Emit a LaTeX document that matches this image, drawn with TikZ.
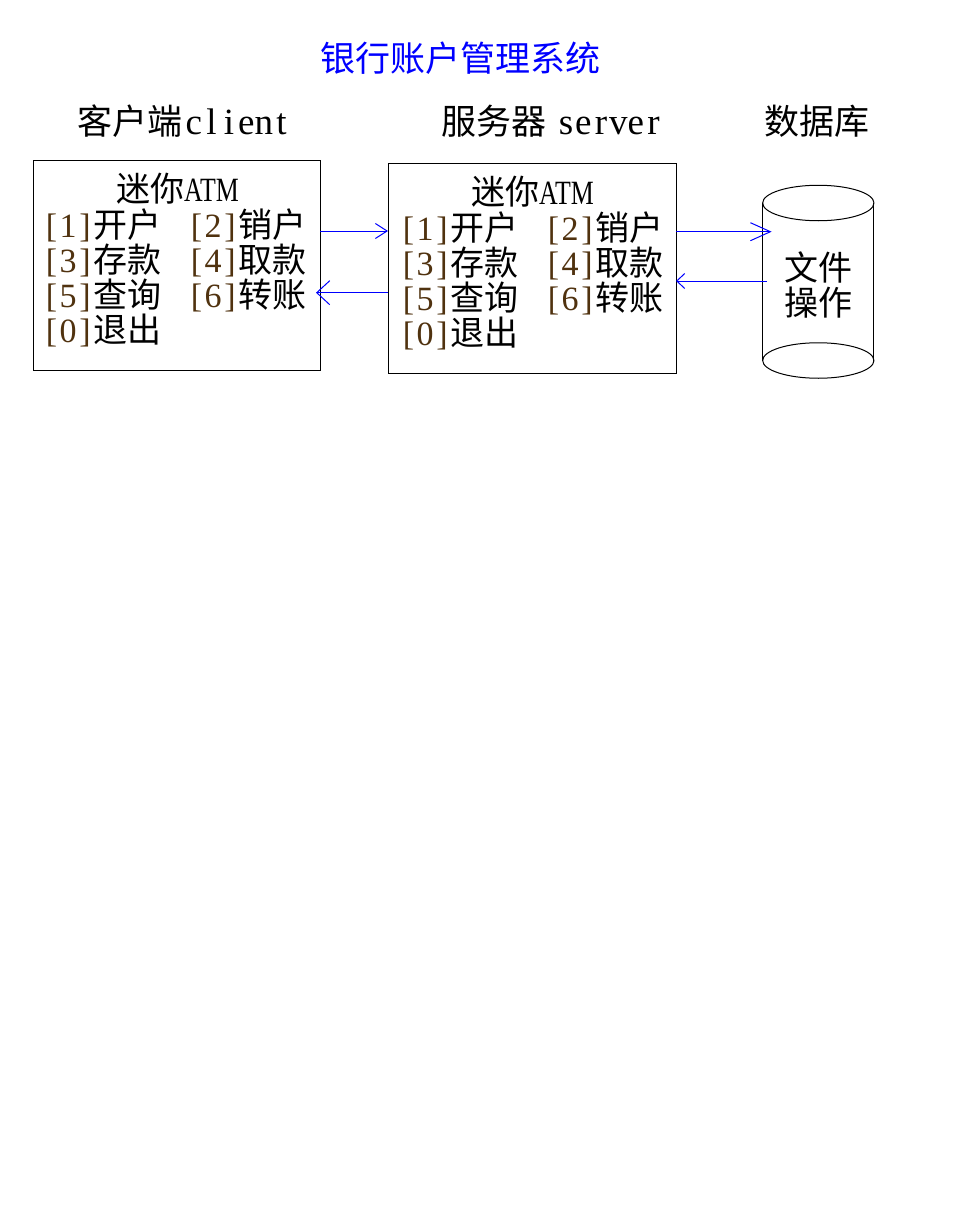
\documentclass[tikz,border=0pt]{standalone}
\usepackage{fontspec}
\setmainfont{Noto Sans CJK SC}
\newfontfamily\latin{Liberation Serif}
\usetikzlibrary{arrows.meta,calc}
\definecolor{numc}{RGB}{80,50,15}
\definecolor{ttl}{RGB}{0,0,255}
\newcommand\hw[1]{\makebox[16.7pt][c]{\latin #1}}
\newcommand\hwb[1]{\makebox[17.5pt][c]{\latin\fontsize{37pt}{38pt}\selectfont #1}}
\newcommand\num[1]{{\color{numc}\hw{[}\hw{#1}\hw{]}}}
\newcommand\firstopt[2]{\makebox[145pt][l]{\num{#1}#2}}
\newcommand\atm{\scalebox{0.76}[1]{\latin ATM}}
\begin{document}
\begin{tikzpicture}[x=1pt,y=-1pt,
  hdr/.style={font=\fontsize{35pt}{36pt}\selectfont, inner sep=0pt},
  menu/.style={font=\fontsize{34pt}{35pt}\selectfont, inner sep=0pt},
  box/.style={draw, line width=1pt, inner sep=0pt, outer sep=0pt},
  arr/.style={draw=blue, line width=1pt}]
\fill[white] (0,0) rectangle (962,1207);
\useasboundingbox (0,0) rectangle (962,1207);

\node[hdr, text=ttl, anchor=base] (title) at (460,71) {银行账户管理系统};

\node[hdr, anchor=base west] (hclient) at (77,134) {客户端\hspace{3pt}\hwb{c}\hwb{l}\hwb{i}\hwb{e}\hwb{n}\hwb{t}};
\node[hdr, anchor=base west] (hserver) at (441,134) {服务器\hspace{11pt}\hwb{s}\hwb{e}\hwb{r}\hwb{v}\hwb{e}\hwb{r}};
\node[hdr, anchor=base] (hdb) at (816.5,134) {数据库};

% client box
\node[box, minimum width=287pt, minimum height=210pt, anchor=north west] (client) at (33,160) {};
\node[menu, anchor=base] (ctitle) at (177.5,201.5) {迷你\atm};
\node[menu, anchor=base west] (c1) at (43,237.75) {\firstopt{1}{开户}\num{2}销户};
\node[menu, anchor=base west] (c2) at (43,272.75) {\firstopt{3}{存款}\num{4}取款};
\node[menu, anchor=base west] (c3) at (43,307.75) {\firstopt{5}{查询}\num{6}转账};
\node[menu, anchor=base west] (c4) at (43,342.75) {\num{0}退出};

% server box
\node[box, minimum width=288pt, minimum height=210pt, anchor=north west] (server) at (388,163) {};
\node[menu, anchor=base] (stitle) at (532.5,204.5) {迷你\atm};
\node[menu, anchor=base west] (s1) at (400,240.75) {\firstopt{1}{开户}\num{2}销户};
\node[menu, anchor=base west] (s2) at (400,275.75) {\firstopt{3}{存款}\num{4}取款};
\node[menu, anchor=base west] (s3) at (400,310.75) {\firstopt{5}{查询}\num{6}转账};
\node[menu, anchor=base west] (s4) at (400,345.75) {\num{0}退出};

% database cylinder
\node[minimum width=111.3pt, minimum height=157.5pt, inner sep=0pt, outer sep=0pt] (db) at (818.3,281.75) {};
\draw[line width=1pt] (db.north west) -- (db.south west) (db.north east) -- (db.south east);
\draw[line width=1pt] (db.north) ellipse [x radius=55.65pt, y radius=17.75pt];
\draw[line width=1pt] (db.south) ellipse [x radius=55.65pt, y radius=17.75pt];
\node[menu, align=center] (dbtext) at (818,284.5) {文件\\操作};

% connectors
\coordinate (a1s) at ([yshift=-71pt]client.north east);
\coordinate (a1e) at (a1s -| server.west);
\draw[arr, -{Straight Barb[length=11.7pt,width=15pt]}] (a1s) -- (a1e);

\coordinate (a2s) at ([yshift=-129.7pt]server.north west);
\coordinate (a2e) at (a2s -| client.east);
\draw[arr, -{Straight Barb[length=13pt,width=24pt]}] (a2s) -- ([xshift=-4pt]a2e);

\coordinate (a3s) at ([yshift=-68.7pt]server.north east);
\coordinate (a3e) at (a3s -| db.west);
\draw[arr, -{Straight Barb[length=20pt,width=18pt]}] (a3s) -- ([xshift=9pt]a3e);

\coordinate (a4e) at ([yshift=-118pt]server.north east);
\coordinate (a4s) at (a4e -| db.west);
\draw[arr, -{Straight Barb[length=8pt,width=15pt]}] ([xshift=4pt]a4s) -- (a4e);
\end{tikzpicture}
\end{document}
